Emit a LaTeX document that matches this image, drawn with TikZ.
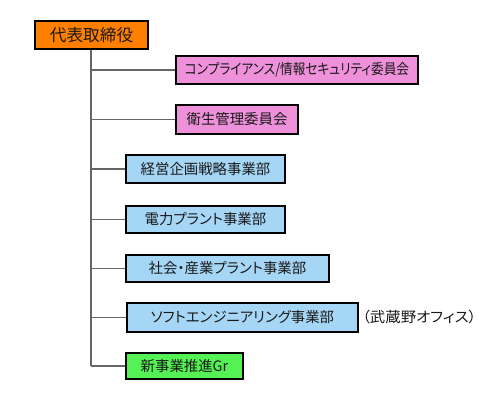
\documentclass[tikz,border=0pt]{standalone}
\usepackage{fontspec}
\setmainfont{Noto Sans CJK JP}[RawFeature={+palt}]
\begin{document}
\begin{tikzpicture}[x=0.75pt,y=-0.75pt,
  box/.style={draw=black,line width=0.9pt,inner sep=0pt,font=\fontsize{10.8}{12}\selectfont,text=black!90},
  link/.style={draw=black!60,line width=1.2pt}]
\definecolor{cOrange}{RGB}{255,128,0}
\definecolor{cPink}{RGB}{238,144,218}
\definecolor{cBlue}{RGB}{166,214,246}
\definecolor{cGreen}{RGB}{84,242,84}
\useasboundingbox (0,0) rectangle (500,400);
\draw[link] (91,49) coordinate (t0) -- (91,366) coordinate (t7);
\coordinate (t1) at (91,70);
\coordinate (t2) at (91,119.5);
\coordinate (t3) at (91,169);
\coordinate (t4) at (91,219.5);
\coordinate (t5) at (91,268.5);
\coordinate (t6) at (91,317.5);
\node[box,fill=cOrange,minimum width=113*0.75pt,minimum height=28*0.75pt,font=\fontsize{12.5}{14}\selectfont] (boss) at (91.5,35) {代表取締役};
\node[box,fill=cPink,minimum width=242*0.75pt,minimum height=28*0.75pt] (comp) at (297,70) {\scalebox{0.88}[1]{コンプライアンス/情報セキュリティ委員会}};
\node[box,fill=cPink,minimum width=122*0.75pt,minimum height=29*0.75pt] (eisei) at (237,119.5) {衛生管理委員会};
\node[box,fill=cBlue,minimum width=159*0.75pt,minimum height=28*0.75pt] (keiei) at (205.5,169) {経営企画戦略事業部};
\node[box,fill=cBlue,minimum width=159*0.75pt,minimum height=27*0.75pt] (denr) at (205.5,219.5) {電力プラント事業部};
\node[box,fill=cBlue,minimum width=203*0.75pt,minimum height=27*0.75pt] (shakai) at (227.5,268.5) {社会・産業プラント事業部};
\node[box,fill=cBlue,minimum width=231*0.75pt,minimum height=29*0.75pt] (soft) at (242.5,317.5) {ソフトエンジニアリング事業部};
\node[box,fill=cGreen,minimum width=117*0.75pt,minimum height=26*0.75pt] (shin) at (184.5,366) {新事業推進Gr};
\node[anchor=west,inner sep=0pt,font=\fontsize{10.8}{12}\selectfont,text=black!90] (musashino) at (362,317.5) {\scalebox{1.07}[1]{（武蔵野オフィス）}};
\draw[link] (t1) -- (comp.west);
\draw[link] (t2) -- (eisei.west);
\draw[link] (t3) -- (keiei.west);
\draw[link] (t4) -- (denr.west);
\draw[link] (t5) -- (shakai.west);
\draw[link] (t6) -- (soft.west);
\draw[link] (t7) -- (shin.west);
\end{tikzpicture}
\end{document}
